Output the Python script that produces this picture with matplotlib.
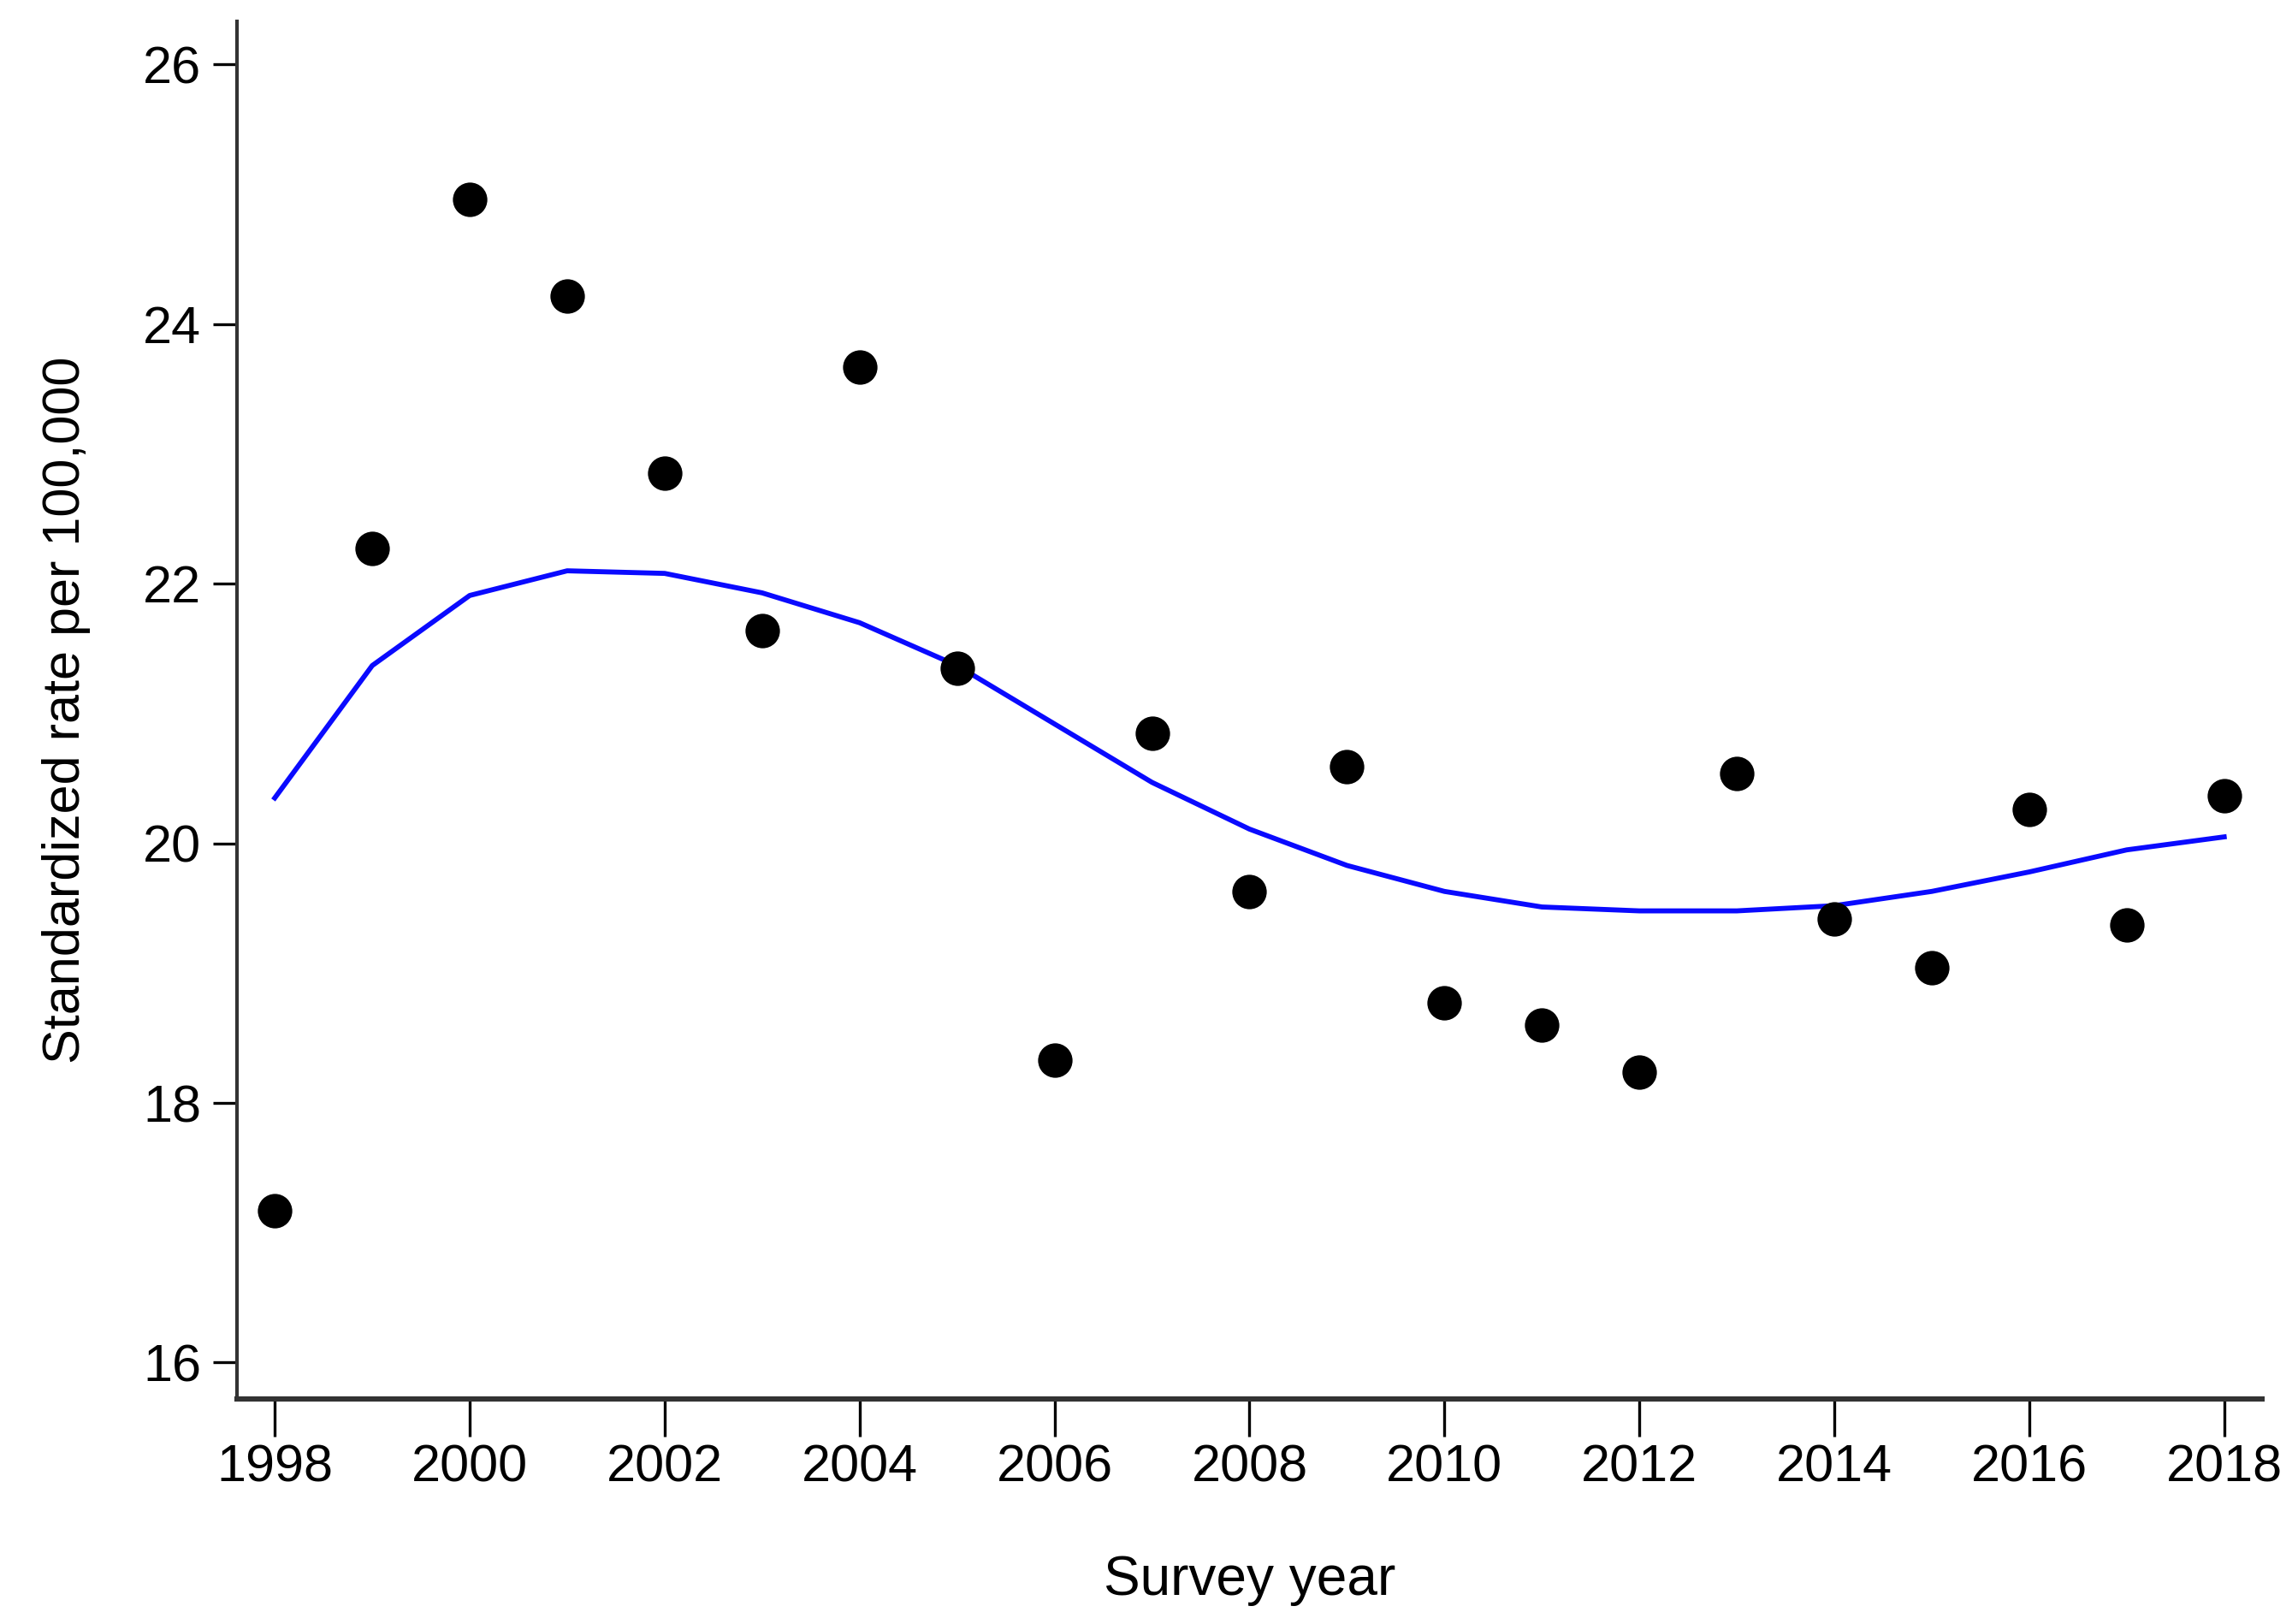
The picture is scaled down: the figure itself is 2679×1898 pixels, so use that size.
import matplotlib
matplotlib.use('Agg')
import matplotlib.pyplot as plt
from matplotlib import font_manager

# dane
years = list(range(1998, 2019))
rate = [17.17, 22.27, 24.96, 24.22, 22.85, 21.64, 23.67, 21.35, 18.33, 20.85,
        19.63, 20.59, 18.77, 18.60, 18.24, 20.54, 19.42, 19.04, 20.26, 19.37, 20.37]
trend = [20.35, 21.37, 21.91, 22.10, 22.08, 21.93, 21.70, 21.37, 20.92, 20.47,
         20.11, 19.83, 19.63, 19.51, 19.48, 19.48, 19.52, 19.63, 19.78, 19.95, 20.05]
xticks = list(range(1998, 2019, 2))
yticks = [16, 18, 20, 22, 24, 26]

names = {f.name for f in font_manager.fontManager.ttflist}
fam = ['Liberation Sans Narrow', 'Liberation Sans', 'DejaVu Sans']
fam = [f for f in fam if f in names] or ['DejaVu Sans']
plt.rcParams['font.family'] = fam

fig = plt.figure(figsize=(13.395, 9.49), dpi=200)
ax = fig.add_axes([0.1033, 0.1386, 0.8837, 0.848])

ax.plot(years, trend, color='#0a0aff', lw=2.1, zorder=2)
ax.scatter(years, rate, s=14.5**2, color='black', zorder=3, linewidths=0)

ax.set_xlim(1997.61, 2018.39)
ax.set_ylim(15.72, 26.33)
ax.set_xticks(xticks)
ax.set_yticks(yticks)

for s in ['top', 'right']:
    ax.spines[s].set_visible(False)
ax.spines['left'].set_linewidth(1.5)
ax.spines['bottom'].set_linewidth(2.2)
ax.spines['left'].set_color('#333333')
ax.spines['bottom'].set_color('#333333')

ax.tick_params(axis='x', length=16, width=1.2, pad=3, labelsize=22, color='black')
ax.tick_params(axis='y', length=10, width=1.2, pad=5, labelsize=22, color='black')

ax.set_xlabel('Survey year', fontsize=23, labelpad=26)
ax.set_ylabel('Standardized rate per 100,000', fontsize=22, labelpad=22)

fig.savefig('out.png', dpi=200, facecolor='white')
